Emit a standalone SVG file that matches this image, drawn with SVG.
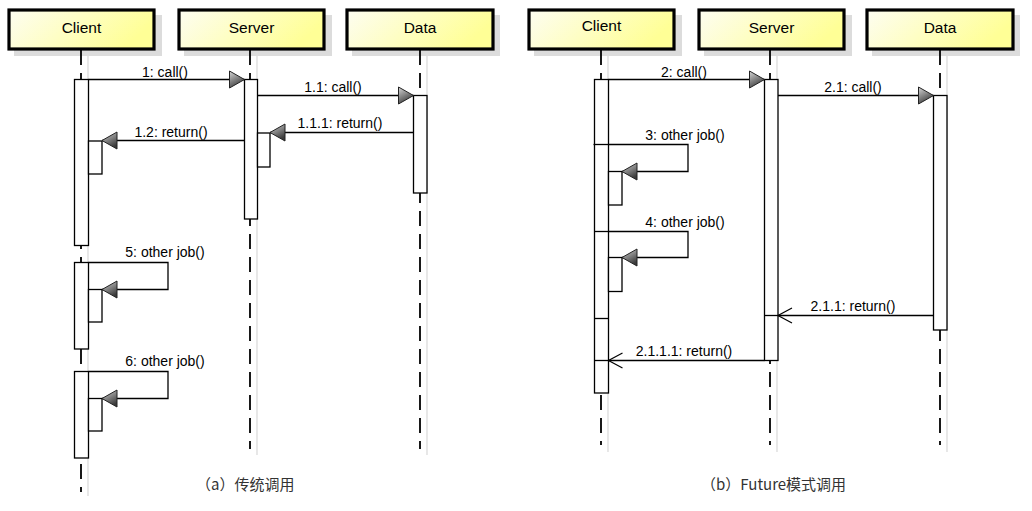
<svg xmlns="http://www.w3.org/2000/svg" width="1032" height="511" viewBox="0 0 1032 511">
  <style>
    .shadow { fill: #dcdcdc; }
    .head { fill: url(#headFill); stroke: #000; stroke-width: 3.2; }
    .htxt { font-family: "Liberation Sans", Arial, sans-serif; font-size: 15.5px; fill: #000; text-anchor: middle; }
    .life { stroke: #000; stroke-width: 1.8; stroke-dasharray: 15 8; fill: none; }
    .lshadow { stroke: #d8d8d8; stroke-width: 1.2; fill: none; }
    .act { fill: #fff; stroke: #000; stroke-width: 1.3; }
    .msg { stroke: #000; stroke-width: 1.3; fill: none; }
    .sep { stroke: #000; stroke-width: 1.3; }
    .lbl { font-family: "Liberation Sans", Arial, sans-serif; font-size: 14px; fill: #000; text-anchor: middle; }
    .cap { font-family: "Noto Sans CJK SC", "Liberation Sans", sans-serif; font-size: 15px; fill: #333; }
  </style>
  <defs>
    <linearGradient id="headFill" x1="0" y1="0" x2="1" y2="0.3">
      <stop offset="0" stop-color="#fdfdf2"/>
      <stop offset="1" stop-color="#ffff96"/>
    </linearGradient>
    <linearGradient id="tipFill" x1="0" y1="0" x2="0.5" y2="1">
      <stop offset="0" stop-color="#d8d8d8"/>
      <stop offset="1" stop-color="#3a3a3a"/>
    </linearGradient>
    <!-- filled call arrow, pointing right -->
    <marker id="fillR" markerUnits="userSpaceOnUse" markerWidth="17" markerHeight="20" refX="15" refY="9" orient="0" overflow="visible">
      <path d="M0,0.5 L15,9 L0,17.5 Z" fill="url(#tipFill)" stroke="#222" stroke-width="1"/>
    </marker>
    <!-- filled arrow, pointing left -->
    <marker id="fillL" markerUnits="userSpaceOnUse" markerWidth="17" markerHeight="20" refX="0" refY="9" orient="0" overflow="visible">
      <path d="M15,0.5 L0,9 L15,17.5 Z" fill="url(#tipFill)" stroke="#222" stroke-width="1"/>
    </marker>
    <!-- open return arrow, pointing left -->
    <marker id="openL" markerUnits="userSpaceOnUse" markerWidth="16" markerHeight="18" refX="0" refY="8" orient="0" overflow="visible">
      <path d="M14,0.5 L0,8 L14,15.5" fill="none" stroke="#000" stroke-width="1.2"/>
    </marker>
  </defs>

  <!-- ===== (a) synchronous call ===== -->
  <g id="a-client">
    <rect class="shadow" x="14" y="15" width="148" height="41"/>
    <rect class="head" x="9" y="10" width="145" height="39"/>
    <text class="htxt" x="81.5" y="33">Client</text>
    <line class="lshadow" x1="88" y1="56" x2="88" y2="496"/>
    <line class="life" x1="81" y1="50" x2="81" y2="492"/>
    <rect class="act" x="74.5" y="79.5" width="14" height="166"/>
    <rect class="act" x="88.5" y="141" width="13.5" height="33"/>
    <rect class="act" x="74.5" y="262.5" width="14" height="86.5"/>
    <rect class="act" x="88.5" y="289.5" width="13.5" height="32.5"/>
    <rect class="act" x="74.5" y="371.5" width="14" height="86.5"/>
    <rect class="act" x="88.5" y="398.5" width="13.5" height="32.5"/>
  </g>
  <g id="a-server">
    <rect class="shadow" x="184" y="15" width="148" height="41"/>
    <rect class="head" x="179" y="10" width="145" height="39"/>
    <text class="htxt" x="251.5" y="33">Server</text>
    <line class="lshadow" x1="257" y1="56" x2="257" y2="455"/>
    <line class="life" x1="250" y1="50" x2="250" y2="449"/>
    <rect class="act" x="244.5" y="79.5" width="13" height="139.5"/>
    <rect class="act" x="257.5" y="133" width="12.5" height="34"/>
  </g>
  <g id="a-data">
    <rect class="shadow" x="352" y="15" width="148" height="41"/>
    <rect class="head" x="347" y="10" width="146" height="39"/>
    <text class="htxt" x="420" y="33">Data</text>
    <line class="lshadow" x1="427" y1="56" x2="427" y2="455"/>
    <line class="life" x1="420" y1="50" x2="420" y2="449"/>
    <rect class="act" x="413.5" y="95.5" width="13.5" height="97.5"/>
  </g>

  <!-- ===== (b) Future pattern ===== -->
  <g id="b-client">
    <rect class="shadow" x="534" y="15" width="148" height="41"/>
    <rect class="head" x="529" y="10" width="145" height="39"/>
    <text class="htxt" x="601.5" y="31">Client</text>
    <line class="lshadow" x1="608" y1="56" x2="608" y2="452"/>
    <line class="life" x1="601" y1="50" x2="601" y2="445"/>
    <rect class="act" x="594.5" y="79.5" width="14" height="313.5"/>
    <line class="sep" x1="593.5" y1="144.5" x2="608.5" y2="144.5" stroke-width="2"/>
    <line class="sep" x1="594.5" y1="231.5" x2="608.5" y2="231.5"/>
    <line class="sep" x1="594.5" y1="318.5" x2="608.5" y2="318.5"/>
    <line class="sep" x1="594.5" y1="360.5" x2="608.5" y2="360.5"/>
    <rect class="act" x="608.5" y="171.5" width="13.5" height="33.5"/>
    <rect class="act" x="608.5" y="257.5" width="13.5" height="34"/>
  </g>
  <g id="b-server">
    <rect class="shadow" x="704" y="15" width="148" height="41"/>
    <rect class="head" x="699" y="10" width="145" height="39"/>
    <text class="htxt" x="771.5" y="33">Server</text>
    <line class="lshadow" x1="777" y1="56" x2="777" y2="452"/>
    <line class="life" x1="770" y1="50" x2="770" y2="445"/>
    <rect class="act" x="764.5" y="79.5" width="13.5" height="281"/>
    <line class="sep" x1="764.5" y1="315.5" x2="778" y2="315.5"/>
  </g>
  <g id="b-data">
    <rect class="shadow" x="872" y="15" width="148" height="41"/>
    <rect class="head" x="867" y="10" width="146" height="39"/>
    <text class="htxt" x="940" y="33">Data</text>
    <line class="lshadow" x1="947" y1="56" x2="947" y2="452"/>
    <line class="life" x1="940" y1="50" x2="940" y2="445"/>
    <rect class="act" x="933.5" y="95.5" width="13.5" height="234.5"/>
  </g>

  <!-- messages -->
  <g id="connectors">
    <line class="msg" x1="88.5" y1="79.5" x2="244.5" y2="79.5" marker-end="url(#fillR)"/>
    <text class="lbl" x="165" y="77">1: call()</text>
    <line class="msg" x1="257.5" y1="95.5" x2="413.5" y2="95.5" marker-end="url(#fillR)"/>
    <text class="lbl" x="333" y="92">1.1: call()</text>
    <line class="msg" x1="413.5" y1="132.5" x2="270" y2="132.5" marker-end="url(#fillL)"/>
    <text class="lbl" x="340" y="128">1.1.1: return()</text>
    <line class="msg" x1="244.5" y1="140.5" x2="102" y2="140.5" marker-end="url(#fillL)"/>
    <text class="lbl" x="171" y="137">1.2: return()</text>
    <polyline class="msg" points="88.5,262.5 168,262.5 168,289.5 102,289.5" marker-end="url(#fillL)"/>
    <text class="lbl" x="165" y="257">5: other job()</text>
    <polyline class="msg" points="88.5,371.5 168,371.5 168,398.5 102,398.5" marker-end="url(#fillL)"/>
    <text class="lbl" x="165" y="366">6: other job()</text>

    <line class="msg" x1="608.5" y1="79.5" x2="764.5" y2="79.5" marker-end="url(#fillR)"/>
    <text class="lbl" x="684" y="77">2: call()</text>
    <line class="msg" x1="778" y1="95.5" x2="933.5" y2="95.5" marker-end="url(#fillR)"/>
    <text class="lbl" x="853" y="92">2.1: call()</text>
    <polyline class="msg" points="608.5,144.5 688,144.5 688,171.5 622,171.5" marker-end="url(#fillL)"/>
    <text class="lbl" x="685" y="140">3: other job()</text>
    <polyline class="msg" points="608.5,231.5 688,231.5 688,257.5 622,257.5" marker-end="url(#fillL)"/>
    <text class="lbl" x="685" y="227">4: other job()</text>
    <line class="msg" x1="933.5" y1="315.5" x2="778" y2="315.5" marker-end="url(#openL)"/>
    <text class="lbl" x="853" y="311">2.1.1: return()</text>
    <line class="msg" x1="764.5" y1="360.5" x2="608.5" y2="360.5" marker-end="url(#openL)"/>
    <text class="lbl" x="684" y="356">2.1.1.1: return()</text>
  </g>

  <!-- captions -->
  <text class="cap" x="196" y="490">（a）传统调用</text>
  <text class="cap" x="701" y="490">（b）Future模式调用</text>
</svg>
